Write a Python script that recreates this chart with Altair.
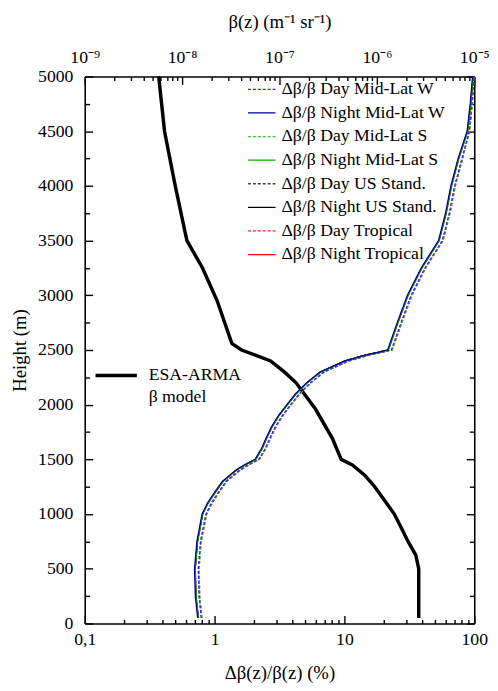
import altair as alt
import pandas as pd

FONT = "Liberation Serif"
LBL = 18
TTL = 19
LEG = 18

# ---------------- data ----------------
heights = [50, 250, 500, 750, 1000, 1100, 1200, 1300, 1400, 1450, 1500, 1600, 1700,
           1800, 1900, 2000, 2100, 2200, 2300, 2400, 2450, 2500, 2750, 3000, 3250,
           3500, 3750, 4000, 4250, 4500, 4750, 5000]

day_mlw = [0.79, 0.76, 0.75, 0.78, 0.86, 0.94, 1.07, 1.23, 1.55, 1.82, 2.19, 2.46, 2.68,
           2.94, 3.32, 3.85, 4.49, 5.46, 6.96, 10.7, 15.0, 23.0, 27.3, 32.6, 41.7,
           56.7, 64.2, 70.6, 80.3, 91.5, 96.0, 99.5]
night_mlw = [0.74, 0.71, 0.70, 0.73, 0.80, 0.88, 1.00, 1.15, 1.45, 1.70, 2.05, 2.30, 2.50,
             2.75, 3.10, 3.60, 4.20, 5.10, 6.50, 10.0, 14.0, 21.5, 25.5, 30.5, 39.0,
             53.0, 60.0, 66.0, 75.0, 88.0, 93.0, 97.0]
day_mls = [0.80, 0.77, 0.76, 0.79, 0.87, 0.95, 1.08, 1.24, 1.57, 1.84, 2.21, 2.49, 2.71,
           2.97, 3.35, 3.89, 4.54, 5.52, 7.03, 10.8, 15.2, 23.3, 27.6, 33.0, 42.1,
           57.3, 64.8, 71.3, 81.0, 92.0, 96.5, 99.8]
night_mls = [0.75, 0.72, 0.71, 0.74, 0.81, 0.89, 1.01, 1.16, 1.47, 1.72, 2.07, 2.33, 2.53,
             2.78, 3.13, 3.64, 4.25, 5.16, 6.58, 10.1, 14.2, 21.8, 25.8, 30.9, 39.5,
             53.6, 60.7, 66.8, 75.9, 89.0, 94.0, 98.0]
day_us = [0.79, 0.76, 0.75, 0.78, 0.86, 0.95, 1.08, 1.23, 1.56, 1.83, 2.20, 2.47, 2.69,
          2.95, 3.33, 3.87, 4.51, 5.49, 6.99, 10.8, 15.1, 23.1, 27.4, 32.8, 41.9,
          57.0, 64.5, 70.9, 80.6, 91.8, 96.2, 99.6]
night_us = [0.75, 0.72, 0.71, 0.74, 0.81, 0.89, 1.01, 1.16, 1.46, 1.71, 2.06, 2.32, 2.52,
            2.77, 3.12, 3.63, 4.23, 5.14, 6.55, 10.1, 14.1, 21.7, 25.7, 30.8, 39.3,
            53.4, 60.5, 66.5, 75.6, 88.6, 93.6, 97.6]
day_trop = [0.80, 0.77, 0.76, 0.79, 0.87, 0.96, 1.09, 1.25, 1.58, 1.85, 2.22, 2.50, 2.72,
            2.99, 3.37, 3.91, 4.56, 5.54, 7.06, 10.9, 15.3, 23.4, 27.8, 33.2, 42.4,
            57.6, 65.2, 71.7, 81.5, 92.2, 96.8, 99.9]
night_trop = [0.75, 0.72, 0.71, 0.74, 0.81, 0.89, 1.02, 1.17, 1.47, 1.73, 2.08, 2.33, 2.54,
              2.79, 3.14, 3.65, 4.26, 5.17, 6.60, 10.2, 14.2, 21.8, 25.9, 31.0, 39.6,
              53.8, 60.9, 67.0, 76.1, 89.2, 94.2, 98.2]

series_names = ["Δβ/β  Day Mid-Lat W", "Δβ/β Night Mid-Lat W",
                "Δβ/β Day Mid-Lat S", "Δβ/β Night Mid-Lat S",
                "Δβ/β Day US Stand.", "Δβ/β Night US Stand.",
                "Δβ/β Day Tropical", "Δβ/β Night Tropical"]
series_values = [day_mlw, night_mlw, day_mls, night_mls, day_us, night_us, day_trop, night_trop]
series_colors = ["#2b2bff", "#00009a", "#33cc33", "#00b000", "#444444", "#000000", "#ff2020", "#ff0000"]
series_dashes = [[3, 2], [1, 0], [3, 2], [1, 0], [3, 2], [1, 0], [3, 2], [1, 0]]

beta_heights = [50, 500, 625, 750, 875, 1000, 1125, 1250, 1350, 1450, 1500, 1690, 1960,
                2200, 2300, 2400, 2450, 2500, 2560, 2950, 3250, 3500, 4000, 4500, 5000]
beta_values = [2.69e-6, 2.69e-6, 2.51e-6, 2.09e-6, 1.78e-6, 1.51e-6, 1.20e-6, 9.5e-7,
               7.6e-7, 5.6e-7, 4.3e-7, 3.5e-7, 2.34e-7, 1.48e-7, 1.12e-7, 8.1e-8,
               5.75e-8, 4.07e-8, 3.24e-8, 2.29e-8, 1.62e-8, 1.12e-8, 8.5e-9, 6.6e-9, 5.75e-9]
beta_legend = ["ESA-ARMA", "β model"]

pct_ticks = [0.1, 0.2, 0.3, 0.4, 0.5, 0.6, 0.7, 0.8, 0.9,
             1, 2, 3, 4, 5, 6, 7, 8, 9,
             10, 20, 30, 40, 50, 60, 70, 80, 90, 100]
beta_ticks = [m * 10.0 ** e for e in (-9, -8, -7, -6) for m in range(1, 10)] + [1e-5]
height_ticks = list(range(0, 5001, 250))

# ---------------- tables ----------------
rows = []
# draw order: tropical first, Mid-Lat W last (on top), Night over Day
for idx in [6, 4, 2, 0, 7, 5, 3, 1]:
    for h, v in zip(heights, series_values[idx]):
        rows.append({"series": series_names[idx], "h": h, "v": v})
df = pd.DataFrame(rows)

dfb = pd.DataFrame({"h": beta_heights, "b": beta_values, "m": beta_legend[0]})

y_scale = alt.Scale(domain=[0, 5000], nice=False)

common_axis = dict(grid=False, labelFont=FONT, titleFont=FONT, labelFontSize=LBL,
                   titleFontSize=TTL, titleFontWeight="normal", labelColor="black",
                   titleColor="black", domainColor="black", domainWidth=1.6,
                   tickColor="black", tickWidth=1.4, labelFlush=False, labelOverlap=False)

# ---------------- beta model layer (top / right axes) ----------------
beta_layer = alt.Chart(dfb).mark_line(strokeWidth=3.5).encode(
    x=alt.X("b:Q",
            scale=alt.Scale(type="log", domain=[1e-9, 1e-5], nice=False),
            axis=alt.Axis(orient="top", values=beta_ticks,
                          title="β(z) (m⁻¹ sr⁻¹)",
                          labelExpr="datum.value == 1e-9 ? '10⁻⁹' : datum.value == 1e-8 ? '10⁻⁸' : "
                                    "datum.value == 1e-7 ? '10⁻⁷' : datum.value == 1e-6 ? '10⁻⁶' : "
                                    "datum.value == 1e-5 ? '10⁻⁵' : ''",
                          tickSize={"expr": "(datum.value == 1e-9 || datum.value == 1e-8 || datum.value == 1e-7 || "
                                            "datum.value == 1e-6 || datum.value == 1e-5) ? -8 : -4"},
                          labelPadding=18, titlePadding=14, **common_axis)),
    y=alt.Y("h:Q", scale=y_scale,
            axis=alt.Axis(orient="right", values=height_ticks, labels=False, title=None,
                          tickSize={"expr": "datum.value % 500 == 0 ? -8 : -5"},
                          **common_axis)),
    color=alt.Color("m:N",
                    scale=alt.Scale(domain=beta_legend, range=["black", "transparent"]),
                    legend=alt.Legend(orient="none", legendX=23, legendY=295, title=None,
                                      symbolType="M-3,0H3", symbolSize=196,
                                      symbolStrokeWidth=3.5, labelOffset=24,
                                      rowPadding=4, padding=0,
                                      labelFont=FONT, labelFontSize=LEG, labelColor="black",
                                      labelLimit=0)),
    order=alt.Order("h:Q"),
)

# ---------------- relative error lines (bottom / left axes) ----------------
legend_cfg = alt.Legend(orient="none", legendX=171, legendY=4, title=None,
                        symbolType="M-2,0H2", symbolSize=196, symbolStrokeWidth=1.3,
                        labelOffset=11, rowPadding=6, padding=0,
                        labelFont=FONT, labelFontSize=LEG, labelColor="black", labelLimit=0)

err_layer = alt.Chart(df).mark_line(strokeWidth=1.2).encode(
    x=alt.X("v:Q",
            scale=alt.Scale(type="log", domain=[0.1, 100], nice=False),
            axis=alt.Axis(orient="bottom", values=pct_ticks,
                          title="Δβ(z)/β(z) (%)",
                          labelExpr="datum.value == 0.1 ? '0,1' : (datum.value == 1 || datum.value == 10 || "
                                    "datum.value == 100) ? format(datum.value, 'd') : ''",
                          tickSize={"expr": "(datum.value == 0.1 || datum.value == 1 || datum.value == 10 || "
                                            "datum.value == 100) ? -8 : -4"},
                          labelPadding=15, titlePadding=12, **common_axis)),
    y=alt.Y("h:Q", scale=y_scale,
            axis=alt.Axis(orient="left", values=height_ticks, title="Height (m)",
                          labelExpr="datum.value % 500 == 0 ? format(datum.value, 'd') : ''",
                          tickSize={"expr": "datum.value % 500 == 0 ? -8 : -5"},
                          labelPadding=20, titlePadding=8, **common_axis)),
    color=alt.Color("series:N", scale=alt.Scale(domain=series_names, range=series_colors),
                    legend=legend_cfg),
    strokeDash=alt.StrokeDash("series:N", scale=alt.Scale(domain=series_names, range=series_dashes),
                              legend=legend_cfg),
    order=alt.Order("h:Q"),
)

chart = alt.layer(beta_layer, err_layer).resolve_scale(
    x="independent", color="independent", strokeDash="independent"
).resolve_axis(
    y="independent"
).properties(
    width=396, height=556,
    autosize=alt.AutoSizeParams(type="none"),
    padding={"left": 78, "top": 64, "right": 16, "bottom": 63},
).configure_view(
    stroke=None
)

chart.save("out.html", embed_options={"renderer": "svg", "actions": False})
